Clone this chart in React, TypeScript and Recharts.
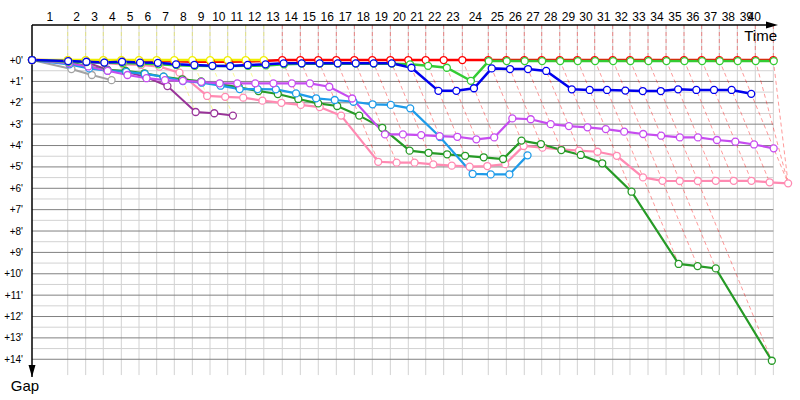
import { Line, LineChart, ReferenceDot, XAxis, YAxis } from "recharts";

// leader's elapsed time (minutes) at the end of each lap, lap 0 = start
const LAP_TIMES = [
  0, 4.06, 6.1, 8.1, 10.15, 12.16, 14.17, 16.17, 18.22, 20.23, 22.24, 24.28, 26.34,
  28.44, 30.49, 32.53, 34.58, 36.63, 38.67, 40.72, 42.76, 44.74, 46.78, 48.9, 51.85,
  53.9, 55.94, 57.92, 59.97, 61.97, 63.94, 65.99, 67.95, 70.0, 72.05, 74.09, 76.1,
  78.1, 80.15, 82.19, 84.24
];

const GAP_TICKS = [0, 1, 2, 3, 4, 5, 6, 7, 8, 9, 10, 11, 12, 13, 14];

// gap to leader (minutes) per lap, index = lap
const GRAY_GAPS = [0, 0.42, 0.7, 0.94];
const PLUM_GAPS = [0, 0.05, 0.1, 0.45, 0.55, 0.8, 1.22, 2.43, 2.49, 2.6];
const PINK_GAPS = [
  0, 0.05, 0.1, 0.15, 0.2, 0.23, 0.31, 0.59, 1.68, 1.72, 1.76, 1.9, 2.0, 2.1, 2.2, 2.6,
  4.76, 4.8, 4.8, 4.88, 4.94, 4.99, 4.96, 4.87, 4.02, 4.1, 4.18, 4.24, 4.29, 4.48, 5.49,
  5.65, 5.66, 5.66, 5.65, 5.65, 5.65, 5.72, 5.77
];
const FOREST_GAPS = [
  0, 0.1, 0.3, 0.47, 0.51, 0.62, 0.78, 0.9, 1.0, 1.12, 1.28, 1.45, 1.59, 1.82, 2.03,
  2.15, 2.6, 3.17, 4.24, 4.34, 4.41, 4.48, 4.55, 4.63, 3.77, 3.93, 4.21, 4.44, 4.83,
  6.16, 9.54, 9.64, 9.75, 14.07
];
const SKY_GAPS = [
  0, 0.2, 0.39, 0.5, 0.55, 0.65, 0.78, 0.98, 1.06, 1.2, 1.36, 1.36, 1.37, 1.56, 1.79,
  1.87, 1.95, 2.07, 2.1, 2.26, 3.6, 5.33, 5.35, 5.35, 4.46
];
const VIOLET_GAPS = [
  0, 0.15, 0.3, 0.5, 0.7, 0.85, 0.94, 0.97, 1.02, 1.09, 1.09, 1.09, 1.09, 1.09, 1.09,
  1.25, 1.8, 3.48, 3.48, 3.51, 3.56, 3.59, 3.71, 3.62, 2.73, 2.77, 3.0, 3.09, 3.15,
  3.23, 3.35, 3.46, 3.54, 3.62, 3.62, 3.74, 3.82, 3.95, 4.13
];
const RED_GAPS = [
  0, 0.02, 0.03, 0.03, 0.03, 0.03, 0.04, 0.06, 0.08, 0.08, 0.08, 0.07, 0.05,
  0, 0, 0, 0, 0, 0, 0, 0, 0, 0, 0, 0, 0, 0, 0, 0, 0, 0, 0, 0, 0, 0, 0, 0, 0, 0, 0, 0
];
const YELLOW_GAPS = [0, 0, 0, 0, 0, 0, 0, 0, 0, 0, 0, 0, 0];
const GREEN_GAPS = [
  0, 0.08, 0.1, 0.12, 0.14, 0.16, 0.2, 0.24, 0.27, 0.28, 0.28, 0.27, 0.25, 0.2, 0.17,
  0.17, 0.17, 0.17, 0.17, 0.17, 0.2, 0.27, 0.36, 0.97, 0.05, 0.05, 0.05, 0.05, 0.05,
  0.05, 0.05, 0.05, 0.05, 0.05, 0.05, 0.05, 0.05, 0.05, 0.05, 0.05, 0.05
];
const BLUE_GAPS = [
  0, 0.05, 0.08, 0.12, 0.08, 0.12, 0.13, 0.2, 0.23, 0.27, 0.28, 0.23, 0.2, 0.155, 0.155,
  0.155, 0.155, 0.155, 0.155, 0.155, 0.36, 1.44, 1.44, 1.32, 0.39, 0.42, 0.42, 0.51,
  1.37, 1.4, 1.4, 1.43, 1.45, 1.45, 1.37, 1.4, 1.4, 1.4, 1.58
];

const FINISHERS = ["red", "green", "blue", "violet", "pink"];

const FONT = "'Liberation Sans', Arial, sans-serif";
const X_MAX = 87.27;
const Y_MIN = -1.64;
const Y_MAX = 14.83;
const GRID_BOTTOM = 14.74;
const ARROW_X = 84.77;

type Pt = { x: number; y: number };

const DRIVERS = [
  { name: "gray", color: "#a3a3a3", gaps: GRAY_GAPS, width: 2 },
  { name: "plum", color: "#993399", gaps: PLUM_GAPS, width: 2 },
  { name: "pink", color: "#ff8ab2", gaps: PINK_GAPS, width: 2.2 },
  { name: "forest", color: "#269a26", gaps: FOREST_GAPS, width: 2.2 },
  { name: "sky", color: "#1e9be9", gaps: SKY_GAPS, width: 2.2 },
  { name: "violet", color: "#c64cf0", gaps: VIOLET_GAPS, width: 2.2 },
  { name: "red", color: "#ff0000", gaps: RED_GAPS, width: 2.5 },
  { name: "yellow", color: "#f0f000", gaps: YELLOW_GAPS, width: 2.5 },
  { name: "green", color: "#33cc33", gaps: GREEN_GAPS, width: 2.5 },
  { name: "blue", color: "#0000ee", gaps: BLUE_GAPS, width: 2.5 }
].map((d) => ({
  ...d,
  points: d.gaps.map((g, lap) => ({ x: LAP_TIMES[lap] + g, y: g }))
}));

const LAP_MIDS = LAP_TIMES.slice(1).map((t, i) => (LAP_TIMES[i] + t) / 2);

// one dashed line per lap: down from the axis to the leader, then to the last car on that lap
const LAP_LINES = LAP_TIMES.slice(1).map((t, i) => {
  const lap = i + 1;
  let end: Pt = { x: t, y: 0 };
  let leader = DRIVERS[0];
  let best = Infinity;
  DRIVERS.forEach((d) => {
    const last = d.gaps.length - 1;
    let p: Pt | undefined;
    if (lap <= last) {
      p = d.points[lap];
      if (d.gaps[lap] < best) {
        best = d.gaps[lap];
        leader = d;
      }
    } else if (FINISHERS.includes(d.name)) {
      p = d.points[last];
    }
    if (p && p.y > end.y) end = p;
  });
  return {
    lap,
    color: leader.color,
    data: [{ x: t, y: Y_MIN }, { x: t, y: 0 }, end]
  };
});

const HALF_LINES = GAP_TICKS.map((g) => g + 0.5).filter((g) => g < 14);

function LapTick(props: any) {
  const { x, y, payload } = props;
  const lap = LAP_MIDS.indexOf(payload.value) + 1;
  const dx = lap === LAP_MIDS.length ? -10 : 0;
  return (
    <text x={x + dx} y={y} textAnchor="middle" fontSize={12} fontFamily={FONT} fill="#000">
      {lap}
    </text>
  );
}

function TimeArrow(props: any) {
  const { cx, cy } = props;
  return (
    <g>
      <polygon points={`${cx},${cy} ${cx - 12},${cy - 3.5} ${cx - 12},${cy + 3.5}`} fill="#000" />
      <text x={cx - 1} y={cy + 15.5} textAnchor="end" fontSize={15} fontFamily={FONT} fill="#000">
        Time
      </text>
    </g>
  );
}

function GapArrow(props: any) {
  const { cx, cy } = props;
  return (
    <g>
      <polygon points={`${cx},${cy} ${cx - 3.5},${cy - 12} ${cx + 3.5},${cy - 12}`} fill="#000" />
      <text x={cx - 7} y={cy + 14} textAnchor="middle" fontSize={15} fontFamily={FONT} fill="#000">
        Gap
      </text>
    </g>
  );
}

export default function App() {
  const lastLap = LAP_TIMES[LAP_TIMES.length - 1];
  return (
    <div style={{ position: "absolute", left: 0, top: 0, width: 800, height: 400, background: "#fff" }}>
      <LineChart width={800} height={400} margin={{ top: 0, right: 0, bottom: 23, left: 0 }}>
        <XAxis
          type="number"
          dataKey="x"
          orientation="top"
          height={25}
          domain={[0, X_MAX]}
          ticks={LAP_MIDS}
          interval={0}
          axisLine={false}
          tickLine={false}
          tickSize={0}
          tickMargin={4}
          tick={<LapTick />}
        />
        <YAxis
          type="number"
          width={32}
          domain={[Y_MIN, Y_MAX]}
          reversed
          ticks={GAP_TICKS}
          interval={0}
          tickLine={false}
          tickSize={0}
          tickMargin={9}
          axisLine={{ stroke: "#000", strokeWidth: 1.5 }}
          tickFormatter={(v: number) => `+${v}'`}
          tick={{ fontSize: 10, fill: "#000", fontFamily: FONT }}
        />

        {LAP_TIMES.slice(1).map((t, i) => (
          <Line
            key={`v${i}`}
            data={[{ x: t, y: Y_MIN }, { x: t, y: GRID_BOTTOM }]}
            dataKey="y"
            stroke="#d2d2d2"
            strokeWidth={1}
            dot={false}
            isAnimationActive={false}
          />
        ))}
        {HALF_LINES.map((g) => (
          <Line
            key={`h${g}`}
            data={[{ x: 0, y: g }, { x: lastLap, y: g }]}
            dataKey="y"
            stroke="#d2d2d2"
            strokeWidth={1}
            dot={false}
            isAnimationActive={false}
          />
        ))}
        {GAP_TICKS.map((g) => (
          <Line
            key={`g${g}`}
            data={[{ x: 0, y: g }, { x: lastLap, y: g }]}
            dataKey="y"
            stroke="#808080"
            strokeWidth={1}
            dot={false}
            isAnimationActive={false}
          />
        ))}

        {LAP_LINES.map((l) => (
          <Line
            key={`lap${l.lap}`}
            data={l.data}
            dataKey="y"
            stroke={l.color}
            strokeOpacity={0.4}
            strokeWidth={1}
            strokeDasharray="4 3"
            dot={false}
            isAnimationActive={false}
          />
        ))}

        {DRIVERS.map((d) => (
          <Line
            key={d.name}
            data={d.points}
            dataKey="y"
            stroke={d.color}
            strokeWidth={d.width}
            dot={{ r: 3.5, fill: "#fff", stroke: d.color, strokeWidth: 1.3 }}
            isAnimationActive={false}
          />
        ))}

        <Line
          data={[{ x: 0, y: Y_MIN }, { x: ARROW_X - 1, y: Y_MIN }]}
          dataKey="y"
          stroke="#000"
          strokeWidth={1.5}
          dot={false}
          isAnimationActive={false}
        />
        <ReferenceDot x={ARROW_X} y={Y_MIN} r={1} ifOverflow="visible" shape={<TimeArrow />} />
        <ReferenceDot x={0} y={Y_MAX} r={1} ifOverflow="visible" shape={<GapArrow />} />
      </LineChart>
    </div>
  );
}
